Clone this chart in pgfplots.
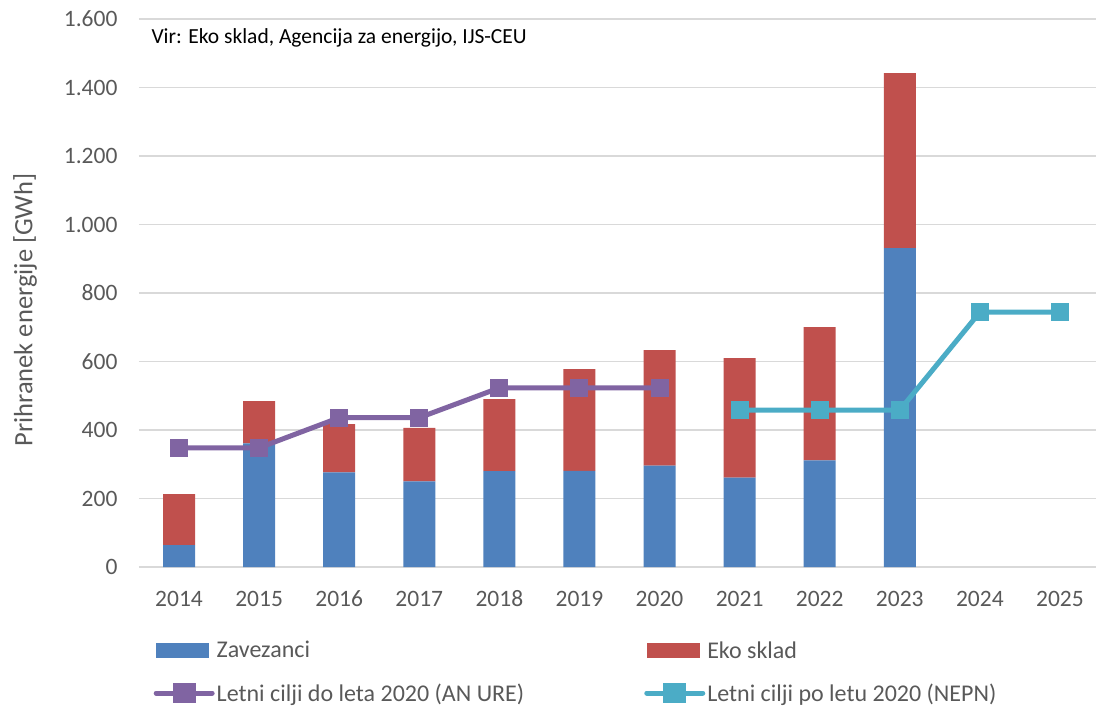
\documentclass[border=0pt]{standalone}
\usepackage{pgfplots}
\pgfplotsset{compat=1.18}
\usepackage{fontspec}
\setmainfont{Carlito}
\definecolor{cblue}{HTML}{4F81BD}
\definecolor{cred}{HTML}{C0504D}
\definecolor{cpurple}{HTML}{8064A2}
\definecolor{ccyan}{HTML}{4BACC6}
\definecolor{gridc}{HTML}{D9D9D9}
\definecolor{tickc}{HTML}{595959}
\pgfplotsset{common/.style={scale only axis, width=957pt, height=548pt,
  at={(139pt,138pt)}, anchor=south west, xmin=-0.5, xmax=11.45, ymin=0, ymax=1600}}
\begin{document}
\begin{tikzpicture}
\begin{axis}[common, ybar stacked, bar width=32pt, clip=false,
  ytick={0,200,...,1600}, ymajorgrids, grid style={line width=1.5pt, color=gridc},
  axis line style={draw=none}, major tick length=0,
  xtick={0,...,11}, xticklabels={2014,2015,2016,2017,2018,2019,2020,2021,2022,2023,2024,2025},
  tick label style={font=\fontsize{23.5}{26}\selectfont, text=tickc},
  /pgf/number format/assume math mode=true, /pgf/number format/1000 sep={.},
  yticklabel style={xshift=-18pt}, xticklabel style={anchor=base, yshift=-39pt}]
\addplot[fill=cblue, draw=none] coordinates {(0,64) (1,361) (2,276) (3,250) (4,280) (5,281) (6,296) (7,261) (8,311) (9,931)};
\addplot[fill=cred, draw=none] coordinates {(0,149) (1,123) (2,141) (3,156) (4,210) (5,297) (6,337) (7,349) (8,389) (9,511)};
\node[anchor=west, font=\fontsize{21.5}{24}\selectfont] at (axis cs:-0.5,1546) {\hspace{9pt}Vir: Eko sklad, Agencija za energijo, IJS-CEU};
\node[rotate=90, font=\fontsize{26.5}{30}\selectfont, text=tickc] at (rel axis cs:-0.1191,0.469) {Prihranek energije [GWh]};
\end{axis}
\begin{axis}[common, hide axis,
  legend columns=2,
  legend style={at={(0.012,-0.128)}, anchor=north west, draw=none, fill=none,
    font=\fontsize{24}{28}\selectfont, text=tickc, row sep=20pt,
    /tikz/every even column/.append style={column sep=118pt}},
  legend cell align=left]
\addlegendimage{area legend, legend image code/.code={\fill[cblue] (0pt,-7pt) rectangle (52pt,7pt);}}
\addlegendentry{Zavezanci}
\addlegendimage{area legend, legend image code/.code={\fill[cred] (0pt,-7pt) rectangle (52pt,7pt);}}
\addlegendentry{Eko sklad}
\addplot[cpurple, line width=5pt, mark=square*, mark size=8.5pt, mark options={solid, line width=0pt},
  legend image code/.code={\draw[cpurple, line width=5pt, line cap=round] (0pt,0pt) -- (56pt,0pt); \fill[cpurple] (19pt,-7.5pt) rectangle (37pt,7.5pt);}]
  coordinates {(0,348) (1,348) (2,436) (3,436) (4,523) (5,523) (6,523)};
\addlegendentry{Letni cilji do leta 2020 (AN URE)}
\addplot[ccyan, line width=5pt, mark=square*, mark size=8.5pt, mark options={solid, line width=0pt},
  legend image code/.code={\draw[ccyan, line width=5pt, line cap=round] (0pt,0pt) -- (56pt,0pt); \fill[ccyan] (19pt,-7.5pt) rectangle (37pt,7.5pt);}]
  coordinates {(7,458) (8,458) (9,458) (10,744) (11,744)};
\addlegendentry{Letni cilji po letu 2020 (NEPN)}
\end{axis}
\pgfresetboundingbox
\useasboundingbox (0,0) rectangle (1096pt,705pt);
\end{tikzpicture}
\end{document}
